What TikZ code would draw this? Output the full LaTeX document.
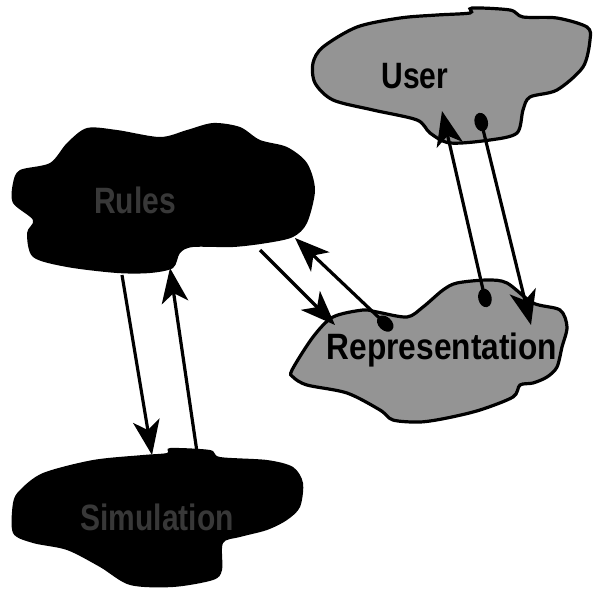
\documentclass[tikz,border=0pt]{standalone}
\usepackage{fontspec}
\setmainfont{Liberation Sans}
\usetikzlibrary{arrows.meta}

\tikzset{
  cloudtext/.style={font=\fontsize{25}{25}\selectfont\bfseries, inner sep=0pt},
  link/.style={line width=2.4pt, -{Stealth[length=26pt,width=20pt,inset=7pt]}},
  duelink/.style={line width=2.4pt, {Ellipse[length=14pt,width=10pt]}-{Stealth[length=26pt,width=20pt,inset=7pt]}}
}

\begin{document}
\begin{tikzpicture}[x=0.75pt, y=-0.75pt]
    % Colori
    \def\colorLight{black!42}
    \def\colorDark{black}
    \def\colorHidden{black!78}

    \useasboundingbox (0,0) rectangle (593,590);

    % Nuvola Rules (scura)
    \fill[\colorDark] plot[smooth cycle, tension=0.5] coordinates {
      (13,183) (20,170) (50,163) (67,143) (87,128) (117,130) (160,137)
      (187,130) (213,123) (240,127) (260,140) (287,147) (307,163) (315,190)
      (307,223) (293,237) (267,243) (233,247) (193,247) (180,253) (173,268)
      (150,273) (117,273) (67,267) (33,257) (27,233) (33,220) (13,203)};
    \node[cloudtext, text=\colorHidden] (rules) at (135,200) {\scalebox{0.9}[1.1]{Rules}};

    % Nuvola Simulation (scura)
    \fill[\colorDark] plot[smooth cycle, tension=0.5] coordinates {
      (13,503) (20,490) (43,473) (93,460) (143,455) (167,453) (170,448)
      (210,450) (220,457) (267,460) (293,467) (303,483) (300,507) (287,520)
      (267,530) (240,537) (223,543) (222,570) (213,580) (173,587) (130,585)
      (100,567) (67,550) (33,543) (13,533)};
    \node[cloudtext, text=\colorHidden] (simulation) at (157,517) {\scalebox{0.9}[1.1]{Simulation}};

    % Nuvola User (chiara)
    \filldraw[fill=\colorLight, draw=black, line width=2.4pt] plot[smooth cycle, tension=0.5] coordinates {
      (313,63) (323,47) (357,27) (400,18) (437,15) (470,13) (472,8)
      (510,10) (523,17) (557,18) (587,27) (590,40) (583,67) (557,90)
      (530,97) (523,110) (517,133) (490,140) (450,143) (430,133) (417,120)
      (373,110) (333,100) (315,83)};
    \node[cloudtext] (user) at (415,76) {\scalebox{0.9}[1.1]{User}};

    % Nuvola Representation (chiara)
    \filldraw[fill=\colorLight, draw=black, line width=2.4pt] plot[smooth cycle, tension=0.5] coordinates {
      (292,370) (313,337) (333,317) (363,310) (377,312) (407,317) (423,307)
      (443,290) (457,283) (487,280) (507,283) (533,303) (560,310) (567,327)
      (562,347) (557,367) (547,377) (533,383) (520,385) (513,397) (480,410)
      (447,418) (420,422) (393,420) (380,410) (347,393) (307,385) (293,377)};
    \node[cloudtext] (repr) at (442,350) {\scalebox{0.95}[1.1]{Representation}};

    % Estremi delle frecce
    \coordinate (rulesA) at (122,275);
    \coordinate (simA) at (152,455);
    \coordinate (simB) at (197,452);
    \coordinate (rulesB) at (170,268);
    \coordinate (rulesC) at (260,250);
    \coordinate (reprC) at (335,325);
    \coordinate (reprD) at (392,330);
    \coordinate (rulesD) at (295,238);
    \coordinate (userE) at (479,113);
    \coordinate (reprE) at (531,325);
    \coordinate (reprF) at (487,307);
    \coordinate (userF) at (442,111);

    % Frecce
    \draw[link] (rulesA) -- (simA);
    \draw[link] (simB) -- (rulesB);
    \draw[link] (rulesC) -- (reprC);
    \draw[duelink] (reprD) -- (rulesD);
    \draw[duelink] (userE) -- (reprE);
    \draw[duelink] (reprF) -- (userF);

\end{tikzpicture}
\end{document}
